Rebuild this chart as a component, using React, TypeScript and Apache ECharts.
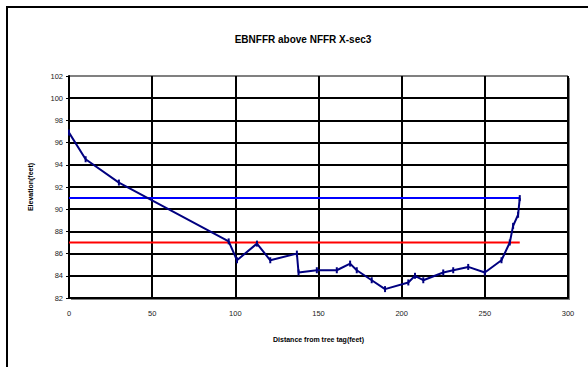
import React, { useEffect, useRef } from "react";
import * as echarts from "echarts";

const titleText = "EBNFFR above NFFR X-sec3";
const xAxisName = "Distance from tree tag(feet)";
const yAxisName = "Elevation(feet)";

const distance = [0, 10, 30, 96, 101, 113, 121, 137, 138, 149, 161, 169, 173, 182, 190, 204, 208, 213, 225, 231, 240, 250, 260, 265, 267, 270, 271];
const elevation = [96.9, 94.5, 92.4, 87.1, 85.4, 86.9, 85.4, 86.0, 84.3, 84.5, 84.5, 85.1, 84.5, 83.6, 82.8, 83.4, 84.0, 83.6, 84.3, 84.5, 84.8, 84.3, 85.4, 87.0, 88.5, 89.5, 91.0];

const blueLineX = [0, 271];
const blueLineY = [91, 91];
const redLineX = [0, 271];
const redLineY = [87, 87];

const xMin = 0, xMax = 300, xStep = 50;
const yMin = 82, yMax = 102, yStep = 2;

export default function App() {
  const ref = useRef<HTMLDivElement>(null);
  useEffect(() => {
    if (!ref.current) return;
    const chart = echarts.init(ref.current, null, { renderer: "svg" });
    const nY = Math.round((yMax - yMin) / yStep) + 1;
    const yColors = Array.from({ length: nY }, (_, i) => (i === nY - 1 ? "#808080" : "#000000"));
    chart.setOption({
      animation: false,
      backgroundColor: "#ffffff",
      textStyle: { fontFamily: "Liberation Sans, Arial, sans-serif" },
      title: {
        text: titleText,
        left: 298,
        top: 29,
        textAlign: "center",
        textStyle: { fontSize: 10, fontWeight: "bold", color: "#000" },
      },
      graphic: [
        {
          type: "rect",
          shape: { x: 7, y: 7, width: 700, height: 500 },
          style: { fill: "none", stroke: "#000", lineWidth: 2 },
          silent: true,
        },
      ],
      grid: {
        left: 69,
        top: 76,
        width: 499,
        height: 222,
        show: true,
        backgroundColor: "#fff",
        borderWidth: 0,
        shadowColor: "#808080",
        shadowOffsetX: 2,
        shadowOffsetY: 2,
        shadowBlur: 0,
      },
      xAxis: {
        type: "value",
        min: xMin,
        max: xMax,
        interval: xStep,
        name: xAxisName,
        nameLocation: "middle",
        nameGap: 38,
        nameTextStyle: { fontSize: 7, fontWeight: "bold", color: "#000" },
        axisLine: { show: true, lineStyle: { color: "#000", width: 2 } },
        axisTick: { show: false },
        axisLabel: { fontSize: 7.5, color: "#222", margin: 11 },
        splitLine: { show: true, lineStyle: { color: "#000", width: 2 } },
      },
      yAxis: {
        type: "value",
        min: yMin,
        max: yMax,
        interval: yStep,
        name: yAxisName,
        nameLocation: "middle",
        nameGap: 35,
        nameRotate: 90,
        nameTextStyle: { fontSize: 7, fontWeight: "bold", color: "#000" },
        axisLine: { show: true, lineStyle: { color: "#000", width: 2 } },
        axisTick: { show: true, inside: false, length: 3, lineStyle: { color: "#000", width: 1 } },
        axisLabel: { fontSize: 7.5, color: "#222", margin: 6 },
        splitLine: { show: true, lineStyle: { color: yColors, width: 2 } },
      },
      series: [
        {
          type: "line",
          data: blueLineX.map((x, i) => [x, blueLineY[i]]),
          showSymbol: false,
          symbol: "none",
          lineStyle: { color: "#0000ff", width: 2 },
          z: 3,
        },
        {
          type: "line",
          data: redLineX.map((x, i) => [x, redLineY[i]]),
          showSymbol: false,
          symbol: "none",
          lineStyle: { color: "#ff0000", width: 2 },
          z: 3,
        },
        {
          type: "line",
          data: distance.map((x, i) => [x, elevation[i]]),
          symbol: "rect",
          symbolSize: [2, 6],
          itemStyle: { color: "#000080" },
          lineStyle: { color: "#000080", width: 2 },
          z: 4,
        },
      ],
    });
    return () => chart.dispose();
  }, []);
  return (
    <div
      ref={ref}
      style={{ position: "absolute", left: 0, top: 0, width: 588, height: 367 }}
    />
  );
}
